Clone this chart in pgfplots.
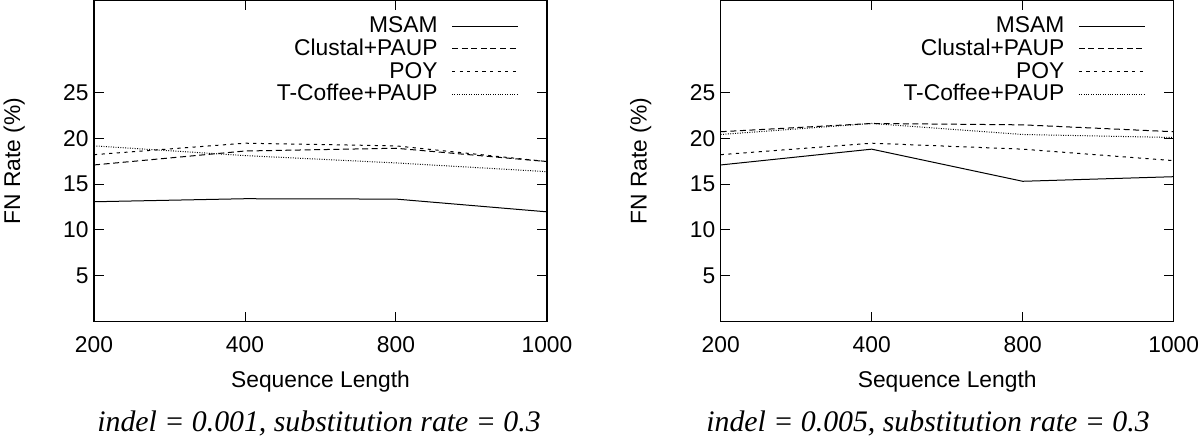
\documentclass[border=0pt]{standalone}
\usepackage{pgfplots}
\pgfplotsset{compat=1.18}
\usepackage{fontspec}
\setmainfont{Liberation Sans}
\newfontfamily\capfont{Liberation Serif}
\pgfplotstableread{
x MSAM Clustal POY TCoffee
0 13.07 17.08 18.20 19.16
1 13.40 18.60 19.45 18.10
2 13.36 18.90 19.16 17.30
3 11.97 17.45 17.45 16.35
}\tableA
\pgfplotstableread{
x MSAM Clustal POY TCoffee
0 17.08 20.70 18.20 20.40
1 18.80 21.60 19.45 21.60
2 15.30 21.45 18.80 20.40
3 15.80 20.70 17.55 20.07
}\tableB
\pgfplotsset{
  myaxis/.style={
    scale only axis, width=226.5pt, height=160.6pt,
    anchor=south west,
    xmin=0, xmax=3, ymin=0, ymax=35,
    xtick={0,1,2,3}, xticklabels={200,400,800,1000},
    ytick={5,10,15,20,25},
    tick align=inside, major tick length=4.8pt,
    tick style={line width=0.5pt, black},
    axis line style={line width=0.6pt},
    /pgf/number format/assume math mode=true,
    ticklabel style={font=\fontsize{11.4}{13}\selectfont},
    xticklabel style={inner sep=0pt, anchor=north, yshift=-7pt},
    yticklabel style={inner sep=0pt, anchor=east, xshift=-2.5pt},
    xlabel={Sequence Length},
    every axis x label/.style={at={(axis description cs:0.5,0)}, anchor=base, yshift=-33pt, font=\fontsize{11.4}{13}\selectfont},
    legend style={
      at={(axis description cs:1,1)}, anchor=north east, xshift=-14pt, yshift=-6pt,
      draw=none, fill=none, inner sep=0pt,
      row sep=-2.3pt, column sep=5pt,
      font=\fontsize{11.4}{13}\selectfont,
      legend cell align=right,
    },
    legend plot pos=right,
    legend image code/.code={\draw[##1] (0pt,0pt) -- (33pt,0pt);},
  },
  sMSAM/.style={black, line width=0.5pt, solid},
  sClustal/.style={black, line width=0.5pt, dash pattern=on 3pt off 1.8pt},
  sPOY/.style={black, line width=0.5pt, dash pattern=on 1.6pt off 2.2pt},
  sTC/.style={black, line width=0.5pt, dash pattern=on 0.45pt off 0.75pt},
}
\begin{document}
\begin{tikzpicture}
\path[use as bounding box] (0,0) rectangle (600pt,222pt);
\begin{axis}[myaxis, at={(47pt,61.15pt)}]
\addplot[sMSAM] table[x=x,y=MSAM] {\tableA};
\addplot[sClustal] table[x=x,y=Clustal] {\tableA};
\addplot[sPOY] table[x=x,y=POY] {\tableA};
\addplot[sTC] table[x=x,y=TCoffee] {\tableA};
\legend{MSAM,Clustal+PAUP,POY,T-Coffee+PAUP}
\end{axis}
\begin{axis}[myaxis, at={(360.35pt,61.15pt)}]
\addplot[sMSAM] table[x=x,y=MSAM] {\tableB};
\addplot[sClustal] table[x=x,y=Clustal] {\tableB};
\addplot[sPOY] table[x=x,y=POY] {\tableB};
\addplot[sTC] table[x=x,y=TCoffee] {\tableB};
\legend{MSAM,Clustal+PAUP,POY,T-Coffee+PAUP}
\end{axis}
\node[rotate=90, anchor=base, font=\fontsize{11.4}{13}\selectfont] at (10pt,141.5pt) {FN Rate (\%)};
\node[rotate=90, anchor=base, font=\fontsize{11.4}{13}\selectfont] at (323.35pt,141.5pt) {FN Rate (\%)};
\node[anchor=base, font=\capfont\itshape\fontsize{14.9}{16}\selectfont] at (159.5pt,6pt) {indel = 0.001, substitution rate = 0.3};
\node[anchor=base, font=\capfont\itshape\fontsize{14.9}{16}\selectfont] at (464pt,6pt) {indel = 0.005, substitution rate = 0.3};
\end{tikzpicture}
\end{document}
